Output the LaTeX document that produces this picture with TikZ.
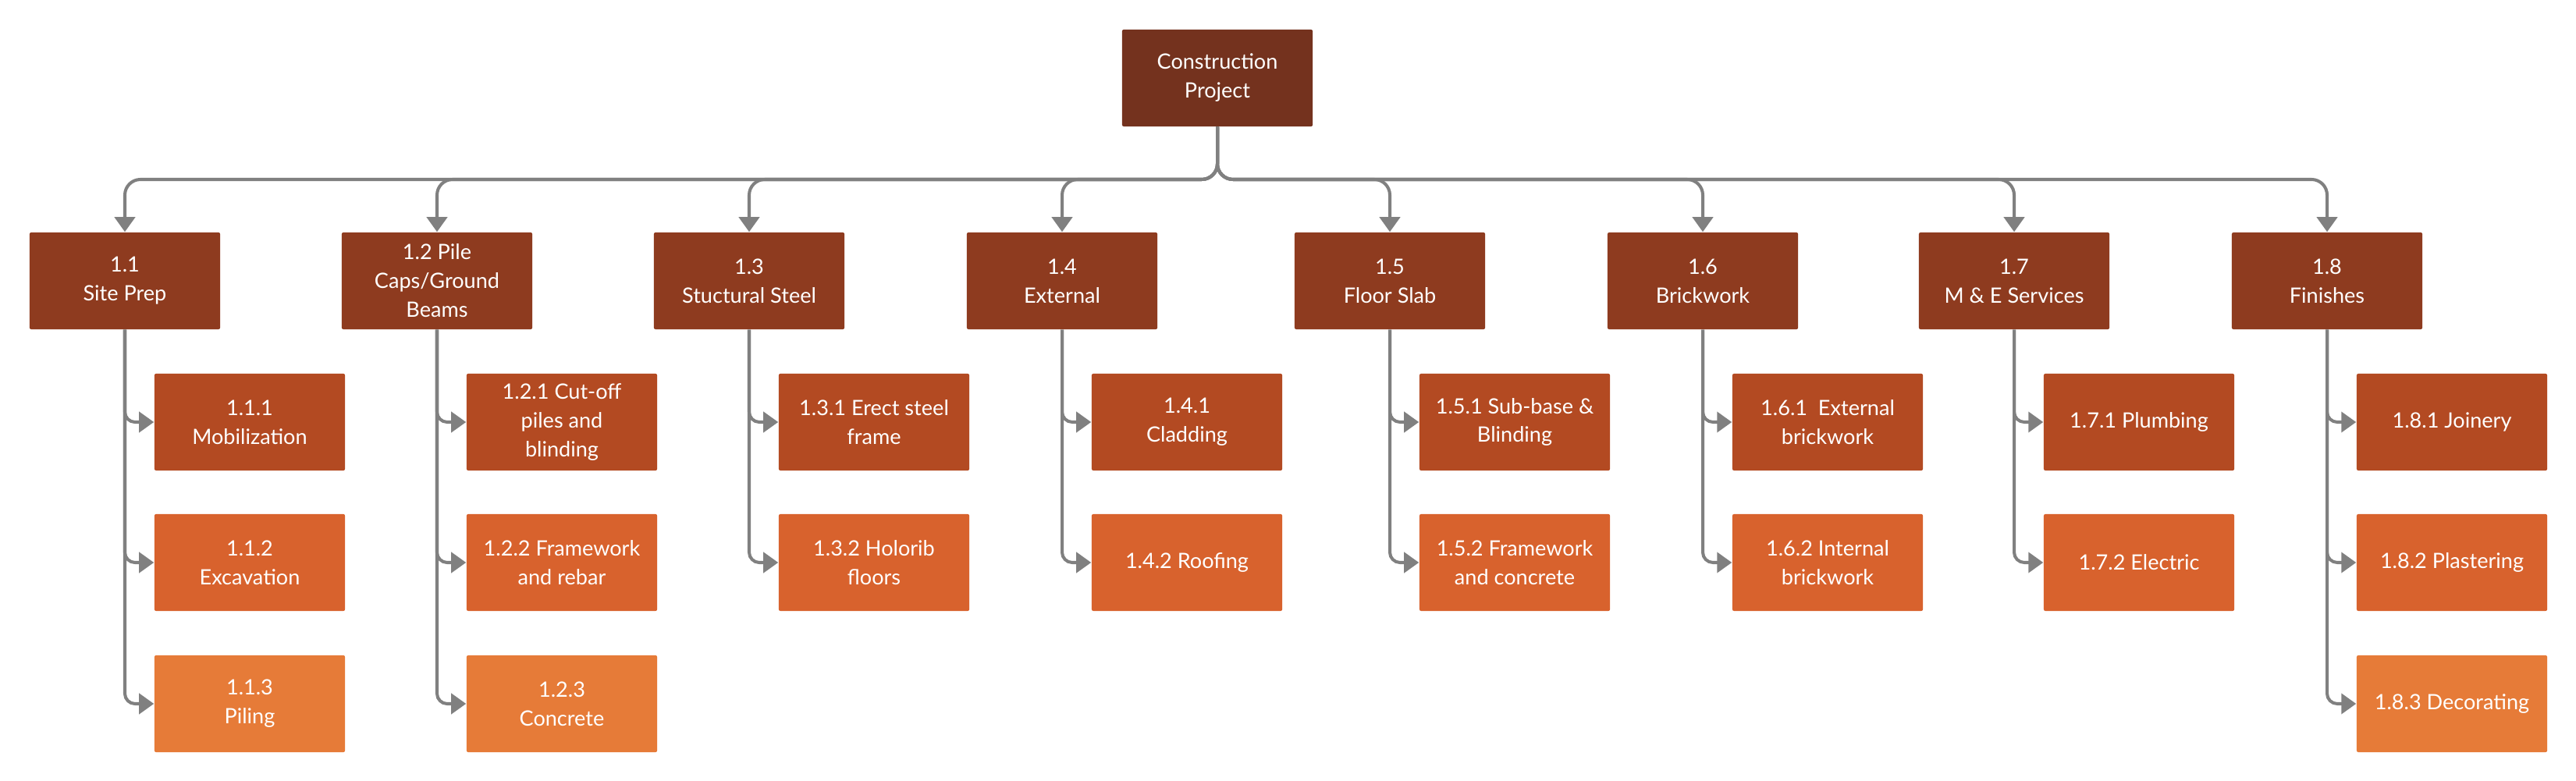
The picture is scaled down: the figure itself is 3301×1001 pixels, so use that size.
\documentclass[tikz,border=0pt]{standalone}
\usepackage{fontspec}
\setmainfont{Lato}
\usepackage{tikz}
\usetikzlibrary{arrows.meta}
\definecolor{rootbrown}{HTML}{74321E}
\definecolor{phasebrown}{HTML}{8E3B1F}
\definecolor{rowone}{HTML}{B34A22}
\definecolor{rowtwo}{HTML}{D8622D}
\definecolor{rowthree}{HTML}{E67B38}
\definecolor{linkgray}{HTML}{808080}

\begin{document}
\begin{tikzpicture}[x=0.01cm, y=-0.01cm,
	box/.style={rectangle, rounded corners=0.02cm, minimum width=2.44cm, minimum height=1.24cm, inner sep=0pt, align=center, text=white, font=\fontsize{7.7}{10.5}\selectfont},
	rootbox/.style={box, fill=rootbrown},
	phasebox/.style={box, fill=phasebrown},
	taskone/.style={box, fill=rowone},
	tasktwo/.style={box, fill=rowtwo},
	taskthree/.style={box, fill=rowthree},
	link/.style={draw=linkgray, line width=1.15pt, -{Triangle[length=0.19cm, width=0.26cm]}},
	]
	\useasboundingbox (0,0) rectangle (3301,1001);
	%\draw[help lines] (0,0) grid[step=1cm] (3301,1001);
	\coordinate (bus) at (0,230);
	\node[rootbox] (proj) at (1560,100) {Construction\\Project};
	% phases
	\node[phasebox] (c1) at (160,360) {1.1\\Site Prep};
	\node[phasebox] (c2) at (560,360) {1.2 Pile\\Caps/Ground\\Beams};
	\node[phasebox] (c3) at (960,360) {1.3\\Stuctural Steel};
	\node[phasebox] (c4) at (1361,360) {1.4\\External};
	\node[phasebox] (c5) at (1781,360) {1.5\\Floor Slab};
	\node[phasebox] (c6) at (2182,360) {1.6\\Brickwork};
	\node[phasebox] (c7) at (2581,360) {1.7\\M \& E Services};
	\node[phasebox] (c8) at (2982,360) {1.8\\Finishes};
	% tasks
	\node[taskone] (c11) at (320,541) {1.1.1\\Mobilization};
	\node[tasktwo] (c12) at (320,721) {1.1.2\\Excavation};
	\node[taskthree] (c13) at (320,902) {1.1.3\\Piling};
	\node[taskone] (c21) at (720,541) {1.2.1 Cut-off\\piles and\\blinding};
	\node[tasktwo] (c22) at (720,721) {1.2.2 Framework\\and rebar};
	\node[taskthree] (c23) at (720,902) {1.2.3\\Concrete};
	\node[taskone] (c31) at (1120,541) {1.3.1 Erect steel\\frame};
	\node[tasktwo] (c32) at (1120,721) {1.3.2 Holorib\\floors};
	\node[taskone] (c41) at (1521,541) {1.4.1\\Cladding};
	\node[tasktwo] (c42) at (1521,721) {1.4.2 Roofing};
	\node[taskone] (c51) at (1941,541) {1.5.1 Sub-base \&\\Blinding};
	\node[tasktwo] (c52) at (1941,721) {1.5.2 Framework\\and concrete};
	\node[taskone] (c61) at (2342,541) {1.6.1\ \ External\\brickwork};
	\node[tasktwo] (c62) at (2342,721) {1.6.2 Internal\\brickwork};
	\node[taskone] (c71) at (2741,541) {1.7.1 Plumbing};
	\node[tasktwo] (c72) at (2741,721) {1.7.2 Electric};
	\node[taskone] (c81) at (3142,541) {1.8.1 Joinery};
	\node[tasktwo] (c82) at (3142,721) {1.8.2 Plastering};
	\node[taskthree] (c83) at (3142,902) {1.8.3 Decorating};
	% project to phases
	\draw[link, rounded corners=0.2cm] (proj.south) |- (c1.north |- bus) -- (c1.north);
	\draw[link, rounded corners=0.2cm] (proj.south) |- (c2.north |- bus) -- (c2.north);
	\draw[link, rounded corners=0.2cm] (proj.south) |- (c3.north |- bus) -- (c3.north);
	\draw[link, rounded corners=0.2cm] (proj.south) |- (c4.north |- bus) -- (c4.north);
	\draw[link, rounded corners=0.2cm] (proj.south) |- (c5.north |- bus) -- (c5.north);
	\draw[link, rounded corners=0.2cm] (proj.south) |- (c6.north |- bus) -- (c6.north);
	\draw[link, rounded corners=0.2cm] (proj.south) |- (c7.north |- bus) -- (c7.north);
	\draw[link, rounded corners=0.2cm] (proj.south) |- (c8.north |- bus) -- (c8.north);
	% phases to tasks
	\draw[link, rounded corners=0.13cm] (c1.south) |- (c11.west);
	\draw[link, rounded corners=0.13cm] (c1.south) |- (c12.west);
	\draw[link, rounded corners=0.13cm] (c1.south) |- (c13.west);
	\draw[link, rounded corners=0.13cm] (c2.south) |- (c21.west);
	\draw[link, rounded corners=0.13cm] (c2.south) |- (c22.west);
	\draw[link, rounded corners=0.13cm] (c2.south) |- (c23.west);
	\draw[link, rounded corners=0.13cm] (c3.south) |- (c31.west);
	\draw[link, rounded corners=0.13cm] (c3.south) |- (c32.west);
	\draw[link, rounded corners=0.13cm] (c4.south) |- (c41.west);
	\draw[link, rounded corners=0.13cm] (c4.south) |- (c42.west);
	\draw[link, rounded corners=0.13cm] (c5.south) |- (c51.west);
	\draw[link, rounded corners=0.13cm] (c5.south) |- (c52.west);
	\draw[link, rounded corners=0.13cm] (c6.south) |- (c61.west);
	\draw[link, rounded corners=0.13cm] (c6.south) |- (c62.west);
	\draw[link, rounded corners=0.13cm] (c7.south) |- (c71.west);
	\draw[link, rounded corners=0.13cm] (c7.south) |- (c72.west);
	\draw[link, rounded corners=0.13cm] (c8.south) |- (c81.west);
	\draw[link, rounded corners=0.13cm] (c8.south) |- (c82.west);
	\draw[link, rounded corners=0.13cm] (c8.south) |- (c83.west);
\end{tikzpicture}
\end{document}
